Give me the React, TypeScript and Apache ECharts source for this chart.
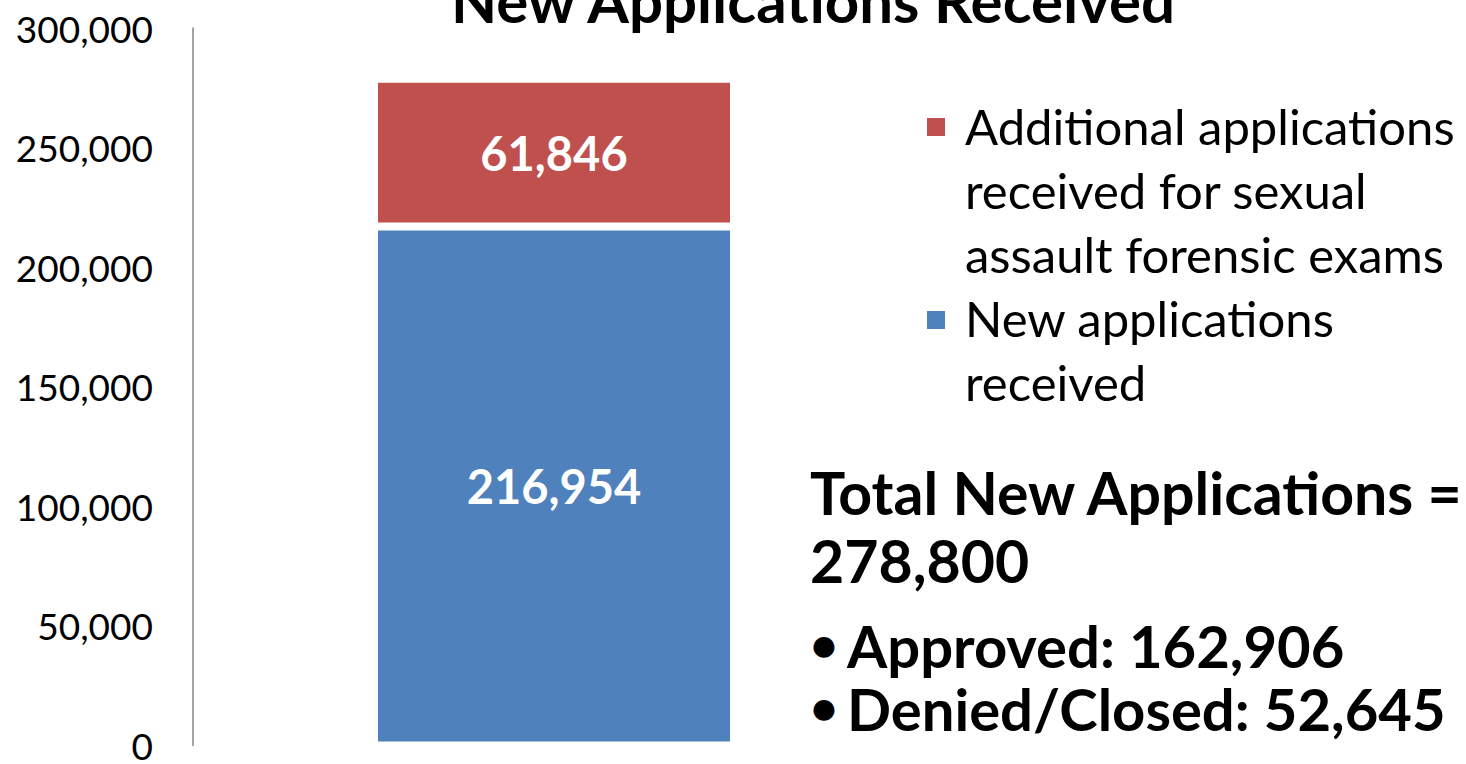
import React, { useEffect, useRef } from "react";
import * as echarts from "echarts";

const categories = ["New Applications"];
const newApplications = [216954];
const additionalSAFE = [61846];
const yTicks = [0, 50000, 100000, 150000, 200000, 250000, 300000];
const seriesNames = [
  "New applications\nreceived",
  "Additional applications\nreceived for sexual\nassault forensic exams",
];
const approved = 162906;
const deniedClosed = 52645;
const titleText = "New Applications Received";

const fmt = (v: number) => v.toLocaleString("en-US");
const FONT = "Lato, 'Open Sans', sans-serif";

export default function App() {
  const ref = useRef<HTMLDivElement>(null);
  useEffect(() => {
    if (!ref.current) return;
    const chart = echarts.init(ref.current, undefined, { renderer: "svg" });
    const total = newApplications[0] + additionalSAFE[0];
    const barLabel = {
      show: true,
      position: "inside",
      color: "#fff",
      fontWeight: "bold",
      fontSize: 47,
      fontFamily: FONT,
      formatter: (p: any) => fmt(p.value),
    };
    chart.setOption({
      animation: false,
      grid: { left: 193, top: 28, bottom: 16, right: 551, containLabel: false },
      xAxis: {
        type: "category",
        data: categories,
        axisLine: { show: false },
        axisTick: { show: false },
        axisLabel: { show: false },
      },
      yAxis: {
        type: "value",
        min: yTicks[0],
        max: yTicks[yTicks.length - 1],
        interval: yTicks[1] - yTicks[0],
        axisLine: { show: true, lineStyle: { color: "#868686", width: 1.5 } },
        axisTick: { show: false },
        splitLine: { show: false },
        axisLabel: {
          margin: 40,
          color: "#000",
          fontSize: 37,
          fontFamily: FONT,
          formatter: (v: number) => fmt(v),
        },
      },
      series: [
        {
          name: seriesNames[0],
          type: "bar",
          stack: "total",
          data: newApplications,
          barWidth: 360,
          itemStyle: { color: "#4F81BD", borderColor: "#fff", borderWidth: 4 },
          label: barLabel,
        },
        {
          name: seriesNames[1],
          type: "bar",
          stack: "total",
          data: additionalSAFE,
          barWidth: 360,
          itemStyle: { color: "#C0504D", borderColor: "#fff", borderWidth: 4 },
          label: barLabel,
        },
      ],
      graphic: [
        {
          type: "text",
          x: 813,
          y: 0,
          style: {
            text: titleText,
            font: `bold 60px ${FONT}`,
            fill: "#000",
            align: "center",
            verticalAlign: "middle",
          },
        },
        { type: "rect", shape: { x: 927, y: 118, width: 18, height: 18 }, style: { fill: "#C0504D" } },
        {
          type: "text",
          x: 965,
          y: 94,
          style: {
            text: seriesNames[1],
            font: `49px ${FONT}`,
            lineHeight: 64,
            fill: "#000",
            align: "left",
            verticalAlign: "top",
          },
        },
        { type: "rect", shape: { x: 927, y: 311, width: 18, height: 18 }, style: { fill: "#4F81BD" } },
        {
          type: "text",
          x: 965,
          y: 286,
          style: {
            text: seriesNames[0],
            font: `49px ${FONT}`,
            lineHeight: 64,
            fill: "#000",
            align: "left",
            verticalAlign: "top",
          },
        },
        {
          type: "text",
          x: 810,
          y: 492,
          style: {
            text: "Total New Applications =",
            font: `bold 59px ${FONT}`,
            fill: "#000",
            verticalAlign: "middle",
          },
        },
        {
          type: "text",
          x: 810,
          y: 560,
          style: { text: fmt(total), font: `bold 59px ${FONT}`, fill: "#000", verticalAlign: "middle" },
        },
        {
          type: "text",
          x: 810,
          y: 643,
          style: { text: "•", font: `bold 48px ${FONT}`, fill: "#000", verticalAlign: "middle" },
        },
        {
          type: "text",
          x: 847,
          y: 645,
          style: {
            text: "Approved: " + fmt(approved),
            font: `bold 58px ${FONT}`,
            fill: "#000",
            verticalAlign: "middle",
          },
        },
        {
          type: "text",
          x: 810,
          y: 706,
          style: { text: "•", font: `bold 48px ${FONT}`, fill: "#000", verticalAlign: "middle" },
        },
        {
          type: "text",
          x: 847,
          y: 708,
          style: {
            text: "Denied/Closed: " + fmt(deniedClosed),
            font: `bold 58px ${FONT}`,
            fill: "#000",
            verticalAlign: "middle",
          },
        },
      ],
    });
    return () => chart.dispose();
  }, []);
  return (
    <div
      ref={ref}
      style={{ position: "absolute", left: 0, top: 0, width: 1466, height: 764, background: "#fff" }}
    />
  );
}
